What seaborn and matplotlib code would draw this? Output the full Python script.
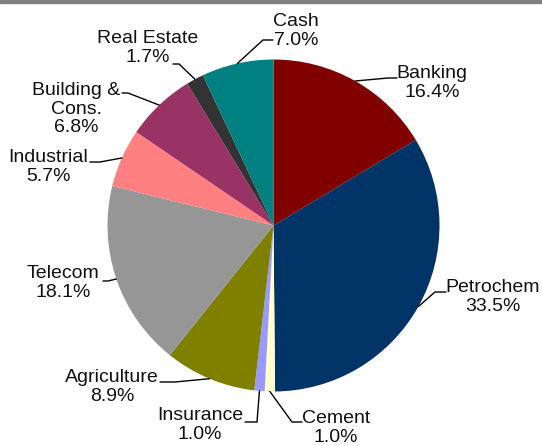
import matplotlib
matplotlib.use("Agg")
import matplotlib.pyplot as plt
import seaborn as sns
import numpy as np

# Portfolio allocation by sector (%), clockwise from 12 o'clock
sectors = ["Banking", "Petrochem", "Cement", "Insurance", "Agriculture",
           "Telecom", "Industrial", "Building &\nCons.", "Real Estate", "Cash"]
shares = [16.4, 33.5, 1.0, 1.0, 8.9, 18.1, 5.7, 6.8, 1.7, 7.0]
colors = ["#800000", "#003366", "#FFFFCC", "#9999FF", "#808000",
          "#969696", "#FF8080", "#993366", "#333333", "#008080"]

# Label layout in pixel coordinates (origin top-left):
# text block centre, then elbow and end of the leader line
label_centre = [(432, 83), (493, 297), (336, 428), (200, 425), (112, 387),
                (63, 283), (48, 167), (76, 109), (148, 48), (296, 31)]
leader_elbow = [(388, 78), (435, 292), (292, 422), (257, 422), (175, 382),
                (108, 281), (100, 162), (128, 93), (179, 64), (263, 40)]
leader_end = [(397, 78), (446, 292), (302, 422), (245, 422), (160, 382),
              (103, 281), (90, 162), (122, 93), (173, 64), (273, 40)]

W, H = 542, 446
CX, CY, R = 273.5, 225.5, 166


def px(x, y):
    return x, H - y


sns.set_theme(style="white")
plt.rcParams["font.family"] = ["Liberation Sans", "DejaVu Sans"]

fig = plt.figure(figsize=(W / 100, H / 100), dpi=100)
fig.patch.set_facecolor("white")
ax = fig.add_axes([0, 0, 1, 1])

wedges, _ = ax.pie(shares, colors=colors, startangle=90, counterclock=False,
                   center=px(CX, CY), radius=R, frame=True,
                   wedgeprops=dict(linewidth=0))
ax.set_xlim(0, W)
ax.set_ylim(0, H)
ax.set_aspect("equal")
ax.axis("off")

for w, name, val, c, el, en in zip(wedges, sectors, shares, label_centre,
                                   leader_elbow, leader_end):
    mid = np.deg2rad((w.theta1 + w.theta2) / 2)
    ex = w.center[0] + R * np.cos(mid)
    ey = w.center[1] + R * np.sin(mid)
    xs = [ex, px(*el)[0], px(*en)[0]]
    ys = [ey, px(*el)[1], px(*en)[1]]
    ax.plot(xs, ys, color="black", lw=1.0, solid_joinstyle="miter")
    ax.text(*px(*c), f"{name}\n{val:.1f}%", ha="center", va="center",
            multialignment="center", fontsize=14, color="#111111",
            linespacing=1.12)

# thin grey rule across the top edge
fig.patches.append(plt.Rectangle((0, 1 - 3 / H), 1, 3 / H,
                                 transform=fig.transFigure,
                                 color="#808080", zorder=5))

fig.savefig("out.png", dpi=100)
